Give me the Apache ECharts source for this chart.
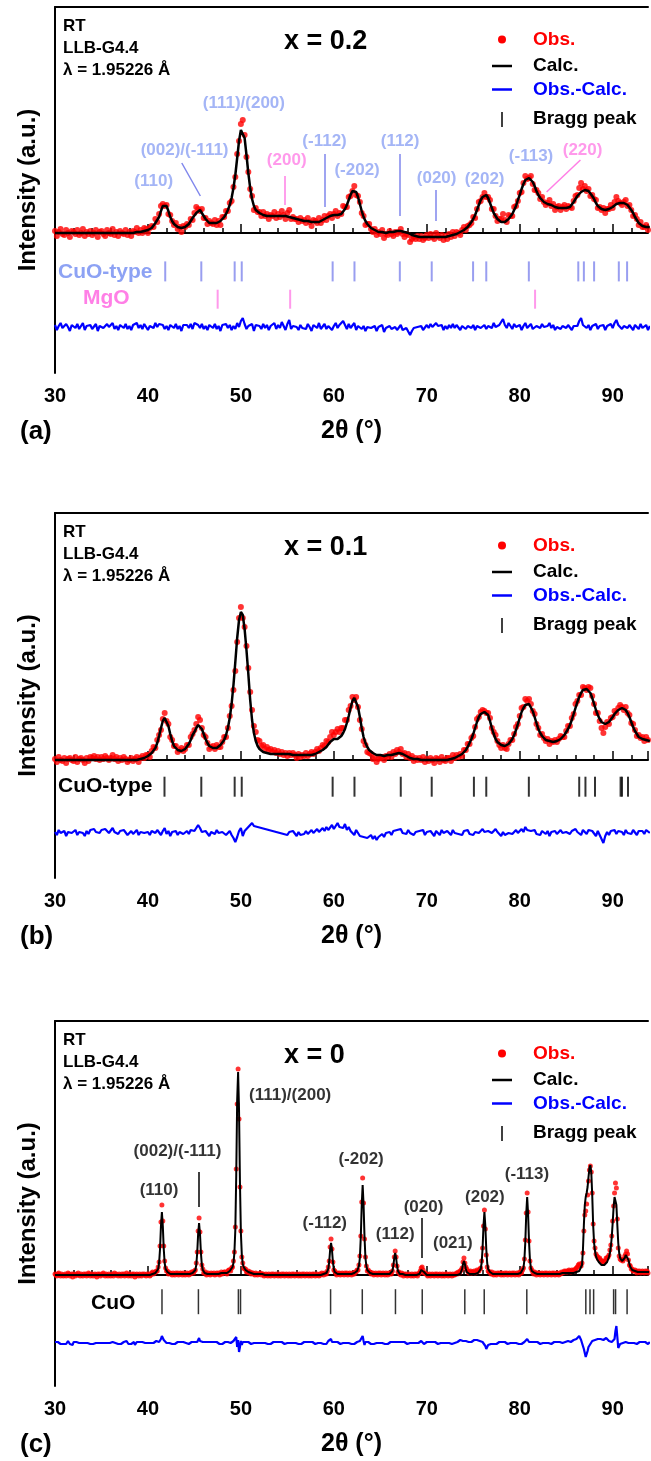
<!DOCTYPE html>
<html>
<head>
<meta charset="utf-8">
<script src="https://cdn.jsdelivr.net/npm/echarts/dist/echarts.min.js"></script>
<style>
  html, body { margin: 0; padding: 0; background: #fff; }
  #chart { width: 651px; height: 1461px; }
</style>
</head>
<body>
<div id="chart"></div>
<script>
// Rietveld refinement plots, 3 samples (x = 0.2, 0.1, 0)
// intensities in a.u., calc baseline at 0; obs = calc + (obs - calc)

// ---- panel (a) x = 0.2, step 0.2 deg from 30 ----
const calcA = [
  0,0,0,0,0, 0,0,0,0,0, 0,0,0,0,0, 0,0,0,0,0, 0,0,0,0,0, 0,0,0,0,0, 0,0,0,0,0, 0,0,0,0,0,
  0,0,0,1,1, 1,1,2,2,3, 3,4,5,7,10, 11,16,22,27,29, 27,22,16,12,9, 7,6,5,5,5,
  6,7,9,11,15, 16,20,22,23,21, 17,14,12,10,10, 10,10,10,11,12, 14,16,19,23,28,
  35,45,58,75,92, 103,104,95,78,60, 45,34,27,23,21, 20,19,18,18,17, 17,17,17,17,17,
  17,17,17,17,17, 17,16,16,15,15, 14,14,13,13,12, 12,12,11,11,11, 11,11,11,12,13,
  14,15,16,17,18, 18,18,18,18,19, 21,24,28,33,38, 42,43,41,36,29, 22,16,12,9,7,
  5,4,3,2,1, 1,1,0,0,1, 1,1,1,1,2, 2,2,2,1,0, 0,-1,-2,-3,-3,
  -3,-4,-4,-4,-4, -4,-4,-4,-4,-4, -4,-4,-4,-4,-4, -4,-4,-3,-3,-2, -2,-1,0,1,2,
  3,5,6,8,11, 14,18,23,28,33, 36,38,38,35,30, 25,20,17,14,12, 11,11,11,12,14,
  16,19,23,27,33, 38,44,49,53,55, 55,54,51,47,42, 38,35,33,31,30, 29,29,28,27,26,
  26,25,25,25,25, 25,25,26,28,31, 34,37,39,41,42, 43,43,42,40,37, 34,30,27,25,24,
  23,23,23,24,25, 26,27,29,30,30, 30,30,30,28,26, 23,20,16,13,10, 8,7,6,6,6,
  6
];
const diffA = [
  2,-3,1,4,-1, -2,3,0,-4,2, 1,-1,3,-2,0, 4,-3,1,-1,2, -2,0,3,-4,1, 2,-1,-3,3,0, -1,4,-2,1,-3, 2,0,-1,3,-2,
  1,-3,2,0,4, -1,2,-2,3,1, -3,1,2,-1,4, 0,3,5,2,-2, 1,-3,2,0,-1, 3,-2,1,-4,2,
  0,2,-1,3,-2, 4,6,2,-1,3, -2,1,-3,2,0, -1,3,-2,1,-4, 2,0,3,-1,2,
  -3,1,-2,4,0, 6,9,3,-2,1, -1,3,-4,2,0, 1,-2,3,-1,2, -3,1,0,4,-2,
  2,-1,5,1,-3, 3,7,-2,1,-1, 0,-3,2,-1,1, -2,3,0,-4,2, 1,-1,4,-2,0,
  3,-2,1,2,-3, 1,4,-1,2,0, 6,2,-2,3,-1, 0,4,-3,1,2, -2,1,-4,0,2,
  -1,-3,1,-4,0, -2,2,-5,-1,-3, 1,-2,-4,0,-3, -1,2,-3,-5,-1, -2,-8,-4,-1,-3,
  0,-2,1,-3,-1, 2,-1,3,0,-2, 4,1,-1,2,-3, 1,-2,2,-1,3, -1,2,0,-3,1,
  3,-2,1,0,-1, 2,-3,1,3,-1, 0,2,-2,1,3, -1,4,0,-2,2, 3,8,2,-1,4,
  1,-2,3,0,-1, 2,-3,1,4,-1, 0,3,-2,-4,1, 2,-1,3,0,-2, 1,4,-1,2,-3,
  0,2,-2,1,3, -1,2,0,-3,1, 3,1,6,9,2, 4,-1,2,-3,1, 0,3,-2,1,-1,
  2,-3,1,0,3, -1,4,7,2,0, -2,1,3,-1,2, 0,-3,2,1,-2, 3,-1,0,2,-3,
  1
];
const braggA_CuO = [41.86, 45.74, 49.33, 50.09, 59.87, 62.22, 67.1, 70.53, 74.98, 76.4, 80.98, 86.3, 86.9, 88.0, 90.66, 91.55];
const braggA_MgO = [47.5, 55.3, 81.65];
const labelsA = ['(110)', '(002)/(-111)', '(111)/(200)', '(200)', '(-112)', '(-202)', '(112)', '(020)', '(202)', '(-113)', '(220)'];
const labelPosA = [[40.62, 52], [43.94, 83], [50.32, 130], [54.93, 73], [59.0, 92], [62.5, 63], [67.13, 92], [71.06, 55], [76.23, 54], [81.22, 77], [86.76, 83]];
const labelPhaseA = ['CuO', 'CuO', 'CuO', 'MgO', 'CuO', 'CuO', 'CuO', 'CuO', 'CuO', 'CuO', 'MgO'];
const leadersA = [
  [[43.64, 70], [45.64, 37], 'CuO'],
  [[54.75, 57], [54.75, 28], 'MgO'],
  [[59.07, 79], [59.07, 26], 'CuO'],
  [[67.07, 79], [67.07, 17], 'CuO'],
  [[70.99, 43], [70.99, 12], 'CuO'],
  [[86.53, 73], [82.89, 41], 'MgO']
];

// ---- panel (b) x = 0.1, step 0.2 deg from 30 ----
const calcB = [
  0,0,0,0,0, 0,0,0,0,0, 0,0,0,0,0, 0,0,0,0,0, 0,0,0,0,0, 0,0,0,0,0, 0,0,0,0,0, 0,0,0,0,0, 0,0,0,0,0,
  0,1,1,2,3, 4,5,7,9,12, 17,24,32,39,42, 40,34,26,19,14, 12,10,9,9,10,
  11,13,16,20,25, 28,32,35,35,31, 26,21,17,14,12, 12,12,12,13,15, 17,20,25,32,42,
  56,75,98,122,140, 148,145,131,110,86, 60,40,27,19,14, 11,9,8,7,7, 7,6,6,6,6,
  6,6,6,6,6, 6,6,6,5,5, 5,5,5,5,5, 5,5,5,5,6, 6,7,8,9,10,
  12,13,15,18,20, 21,21,21,22,24, 27,31,37,44,52, 59,62,60,53,43, 32,23,17,13,10,
  8,7,6,5,5, 5,4,4,4,5, 5,5,6,6,7, 7,7,6,5,4, 3,2,2,1,1,
  1,0,0,0,0, 0,0,0,0,0, 0,0,0,0,0, 0,0,1,1,2, 2,3,4,5,6,
  8,10,13,17,21, 26,32,38,43,46, 46,48,48,45,39, 32,26,21,18,16, 15,14,14,15,16,
  18,21,25,30,36, 42,48,52,55,56, 56,54,49,43,37, 31,27,24,22,20, 19,19,18,18,18,
  19,20,21,23,25, 28,31,35,40,46, 52,58,63,67,70, 71,71,70,67,62, 56,50,45,41,38,
  37,36,37,38,40, 43,46,48,50,51, 52,52,50,47,43, 38,33,29,26,23, 22,21,20,20,19,
  19
];
const diffB = [
  1,-2,3,0,-1, 2,-3,1,2,0, -1,3,-2,1,2, 0,-3,2,-1,3, 2,4,1,3,0, 3,1,4,2,0, 2,5,1,3,-1, 2,0,3,1,-2, 0,2,-1,1,3,
  -2,1,3,0,2, 1,-2,2,4,0, 3,1,-2,2,5, -1,2,-3,1,0, 2,-2,1,3,-1,
  0,2,-1,3,1, 2,4,8,5,1, -1,2,0,-3,1, 2,-1,3,0,-2, 1,3,-2,0,2,
  -2,-5,-9,-4,2, 5,-3,2,4,6, 8,10,7,9,6, 8,5,7,4,6, 3,5,2,4,1,
  3,0,2,-1,1, -2,1,-1,2,0, -3,1,-2,0,-1, 2,-1,1,3,0, 2,4,1,3,5,
  2,6,3,5,8, 4,7,10,6,8, 5,9,3,6,2, 4,-2,3,0,-3, -1,-4,-2,-5,-3,
  -2,-6,-3,-7,-4, -3,-1,-4,0,-2, 1,-2,2,0,3, 1,4,0,2,-1, 3,0,2,-2,1,
  -1,2,0,3,-2, 1,-1,2,0,-3, 2,1,-2,3,0, -1,2,1,-2,3, 0,2,-1,1,-2,
  2,0,3,-1,1, -2,1,3,0,2, 4,1,-1,2,3, 0,2,4,1,-1, -3,1,-2,-4,0,
  2,-1,1,3,0, 2,4,1,6,3, 5,2,0,3,-1, 1,-2,2,0,-1, 2,-3,1,0,2,
  -1,1,3,0,-2, 1,3,-1,2,0, 4,1,2,-2,3, 1,-1,3,5,2, 0,-3,2,-2,-6,
  -10,-3,1,-2,2, 0,3,-1,2,4, 1,-2,3,0,2, -1,3,1,-2,2, 0,2,-1,3,1,
  0
];
const braggB = [41.78, 45.74, 49.33, 50.09, 59.87, 62.22, 67.2, 70.53, 75.07, 76.4, 80.98, 86.4, 87.07, 88.1, 90.85, 91.0, 91.65];

// ---- panel (c) x = 0, step 0.1 deg from 30 ----
const calcC = [
  0,0,0,0,0,0,0,0,0,0, 0,0,0,0,0,0,0,0,0,0, 0,0,0,0,0,0,0,0,0,0, 0,0,0,0,0,0,0,0,0,0, 0,0,0,0,0,0,0,0,0,0,
  0,0,0,0,0,0,0,0,0,0, 0,0,0,0,0,0,0,0,0,0, 0,0,0,0,0,0,0,0,0,0, 0,0,0,0,0,0,0,0,0,0, 0,0,0,0,0,0,0,0,0,0,
  0,0,0,0,1,1,1,1,2,2,
  3,6,12,26,49,63,49,26,12,6,
  4,3,2,2,1,1,1,1,1,1,
  1,1,1,1,1,1,1,1,1,1,
  1,1,1,1,1,1,1,2,2,2,
  3,5,10,22,41,52,41,22,10,5,
  3,2,2,1,1,1,1,1,1,1,
  1,1,1,1,1,1,1,1,1,2,
  2,2,2,2,2,2,3,3,4,4,
  6,8,12,22,45,100,175,203,165,92,
  42,20,11,8,6,5,4,3,3,2,
  2,2,2,1,1,1,1,1,1,1,
  1,1,1,1,0,0,0,0,0,0,
  0,0,0,0,0,0,0,0,0,0, 0,0,0,0,0,0,0,0,0,0, 0,0,0,0,0,0,0,0,0,0, 0,0,0,0,0,0,0,0,0,0, 0,0,0,0,0,0,0,0,0,0,
  0,0,0,0,0,0,0,1,1,1,
  1,1,2,3,6,13,25,32,25,13,
  6,3,2,1,1,1,1,1,1,1,
  1,1,1,1,1,1,1,1,1,1,
  1,1,2,2,3,4,5,9,17,38,
  70,90,70,38,17,9,5,4,3,2,
  2,2,1,1,1,1,1,1,1,1,
  1,1,1,1,1,1,1,1,1,1,
  1,1,2,4,9,17,22,17,9,4,
  2,1,1,1,1,0,0,0,0,0,
  0,0,0,0,0,0,0,0,0,0,
  0,1,1,3,5,7,5,3,1,1,
  0,0,0,0,0,0,0,0,0,0, 0,0,0,0,0,0,0,0,0,0, 0,0,0,0,0,0,0,0,0,0,
  0,0,0,0,1,1,1,3,6,11,
  14,11,6,3,2,1,1,1,1,1,
  1,1,1,1,2,2,3,4,6,12,
  26,49,63,49,26,12,6,4,3,2,
  2,1,1,1,1,1,1,1,1,1,
  1,1,1,1,1,1,1,1,1,1,
  1,1,1,1,1,1,1,1,1,1,
  2,2,3,4,7,15,33,61,78,61,
  33,15,7,4,3,2,2,2,1,1,
  1,1,1,1,1,1,1,1,1,1,
  1,1,1,1,1,1,1,1,1,1,
  1,1,1,1,1,2,2,2,2,2,
  2,2,2,2,2,2,2,2,2,2,
  3,3,3,4,4,5,6,10,25,50,
  70,78,82,88,98,107,110,102,80,50,
  32,24,19,16,14,13,12,11,10,10,
  10,10,11,12,13,15,18,22,28,38,
  52,68,78,80,70,50,32,22,17,15,
  14,14,15,17,20,22,20,15,11,8,
  6,5,5,4,4,4,3,3,3,3,
  3,3,3,3,3,3,3,3,3,3,
  3
];
const diffC = [
  1,0,-1,1,2,0,-1,1,0,-1, 0,1,-1,0,2,1,-1,0,1,-2, 1,0,-1,1,0,2,0,-1,1,0, -1,1,0,1,-1,0,2,1,-1,0, 1,-1,0,1,0,-2,1,0,1,-1,
  0,1,2,0,-1,1,0,-1,1,0, -1,0,1,-1,2,0,1,0,-1,1, 0,-1,1,0,1,-1,0,2,0,-1, 1,0,-1,1,0,1,-2,0,1,0, -1,1,0,-1,1,0,1,0,-1,1,
  0,1,-1,0,1,2,0,1,1,2,
  1,2,1,3,4,7,5,3,2,1,
  0,1,-1,0,1,0,-1,1,0,-1,
  1,0,1,-1,0,1,0,-1,1,0,
  -1,0,1,0,-1,1,0,1,1,0,
  1,0,2,1,3,5,2,1,0,1,
  -1,0,1,-1,0,1,0,-1,1,0,
  0,1,-1,0,1,0,1,-1,0,1,
  -1,0,1,1,0,-1,1,2,1,0,
  1,0,2,1,3,6,-4,3,-9,-4,
  2,-2,1,-1,0,1,-1,0,1,0,
  1,-1,0,1,0,-1,1,0,-1,0,
  0,1,-1,0,1,-1,0,1,0,-1,
  1,0,-1,1,0,1,-1,0,1,0,
  -1,1,0,-1,1,0,1,-1,0,1,
  0,-1,1,0,-1,1,0,1,-1,0,
  1,0,-1,1,0,-1,1,0,1,-1,
  0,1,0,-1,1,0,-1,1,0,1,
  -1,0,1,0,-1,1,0,1,0,-1,
  1,0,-1,1,2,1,3,4,1,0,
  -1,1,0,-1,1,0,1,-1,0,1,
  0,-1,1,0,1,-1,0,1,0,-1,
  1,0,-1,1,0,1,0,1,2,1,
  3,7,2,-2,1,0,-1,1,0,1,
  -1,0,1,-1,0,1,0,-1,1,0,
  1,-1,0,1,0,-1,1,0,-1,1,
  0,1,-1,0,1,1,2,1,0,-1,
  1,0,-1,1,0,-1,1,0,1,-1,
  0,1,0,-1,1,0,-1,1,0,1,
  -1,0,1,1,2,1,0,-1,1,0,
  1,-1,0,1,-1,0,1,0,-1,1,
  0,1,-1,0,1,0,-1,1,0,-1,
  1,0,1,-1,0,1,0,-1,1,0,
  0,1,2,1,2,1,3,2,1,2,
  3,1,2,3,2,1,2,3,1,2,
  2,3,1,2,3,2,1,2,1,2,
  1,0,2,-3,-6,-4,-2,-1,0,-1,
  1,0,-1,1,0,-1,1,0,1,0,
  -1,1,0,-1,1,0,1,-1,0,1,
  0,-1,1,0,1,-1,0,1,0,-1,
  1,0,-1,1,0,1,2,1,4,2,
  1,-1,0,1,0,-1,1,0,-1,1,
  0,1,-1,0,1,0,-1,1,0,1,
  -1,0,1,0,-1,1,0,1,-1,0,
  1,0,-1,1,0,1,0,1,2,1,
  2,1,2,3,2,1,3,2,3,2,
  3,4,5,6,7,5,3,2,-3,-6,
  -10,-14,-11,-8,-4,-2,-1,1,2,1,
  2,3,2,3,4,3,5,4,3,4,
  3,4,3,5,4,3,2,3,2,1,
  2,1,4,12,17,6,-5,-3,-1,0,
  1,0,1,2,1,2,1,0,-1,1,
  0,1,-1,0,1,0,-1,1,0,1,
  -1,0,1,0,-1,1,0,1,-1,0,
  1
];
const braggC = [41.51, 45.43, 49.73, 49.96, 59.65, 63.06, 66.63, 69.51, 74.09, 76.18, 80.76, 87.11, 87.56, 87.95, 90.1, 90.31, 91.55];
const labelsC = ['(110)', '(002)/(-111)', '(111)/(200)', '(-112)', '(-202)', '(112)', '(020)', '(021)', '(202)', '(-113)'];
const labelPosC = [[41.19, 85], [43.18, 124], [55.3, 180], [59.03, 52], [62.93, 116], [66.6, 41], [69.65, 68], [72.8, 32], [76.25, 78], [80.78, 101]];
const leadersC = [
  [[45.43, 103], [45.43, 68], 'CuO'],
  [[69.42, 57], [69.42, 17], 'CuO']
];

const xTicks = [30, 40, 50, 60, 70, 80, 90];

// ---- styling ----
const FONT = '"Liberation Sans", Arial, Helvetica, sans-serif';
const PHASE_TXT = { CuO: '#8DA2F4', MgO: '#FF7FE6' };
const PHASE_TICK = { CuO: '#7F86EC', MgO: '#FF7FE6' };
const X_MIN = 30, X_MAX = 93.8;

const panels = [
  { tag: '(a)', title: 'x = 0.2', top: 7, height: 366, yMin: -140, yMax: 226,
    calc: calcA, diff: diffA, step: 0.2, diffOffset: -94, symbol: 6, calcWidth: 2.5,
    bragg: [{ pos: braggA_CuO, mid: -38.4, len: 20, color: PHASE_TICK.CuO, w: 2 },
            { pos: braggA_MgO, mid: -66.2, len: 19, color: PHASE_TICK.MgO, w: 2 }],
    phaseLabels: [{ text: 'CuO-type', x: 58, dy: 265, color: PHASE_TXT.CuO },
                  { text: 'MgO', x: 83, dy: 291.5, color: PHASE_TXT.MgO }],
    labels: labelsA, labelPos: labelPosA, labelColor: labelPhaseA.map(p => PHASE_TXT[p]),
    leaders: leadersA.map(l => [l[0], l[1], PHASE_TICK[l[2]]]) },
  { tag: '(b)', title: 'x = 0.1', top: 513, height: 365, yMin: -118, yMax: 247,
    calc: calcB, diff: diffB, step: 0.2, diffOffset: -73, symbol: 6, calcWidth: 2.5,
    bragg: [{ pos: braggB, mid: -26.7, len: 20, color: '#000', w: 2 }],
    phaseLabels: [{ text: 'CuO-type', x: 58, dy: 273.5, color: '#000' }],
    labels: [], labelPos: [], labelColor: [], leaders: [] },
  { tag: '(c)', title: 'x = 0', top: 1021, height: 365, yMin: -111, yMax: 254,
    calc: calcC, diff: diffC, step: 0.1, diffOffset: -68, symbol: 5, calcWidth: 2,
    bragg: [{ pos: braggC, mid: -26.7, len: 25, color: '#000', w: 1.5 }],
    phaseLabels: [{ text: 'CuO', x: 91, dy: 282.3, color: '#000' }],
    labels: labelsC, labelPos: labelPosC, labelColor: labelsC.map(() => '#000'),
    leaders: leadersC.map(l => [l[0], l[1], '#000']) }
];

const grids = [], xAxes = [], yAxes = [], series = [], graphics = [];

function txt(x, y, s, size, color, align) {
  return { type: 'text', x: x, y: y, silent: true, z: 100,
    style: { text: s, fontFamily: FONT, fontWeight: 'bold', fontSize: size,
             fill: color || '#000', align: align || 'left', verticalAlign: 'middle' } };
}

panels.forEach((p, i) => {
  grids.push({ left: 55, right: 0, top: p.top, height: p.height });

  // bottom axis with ticks
  xAxes.push({
    type: 'value', gridIndex: i, min: X_MIN, max: X_MAX, interval: 10, position: 'bottom',
    axisLine: { lineStyle: { color: '#000', width: 2 } },
    axisTick: { inside: true, length: 9, lineStyle: { color: '#000', width: 1.5 } },
    minorTick: { show: true, splitNumber: 5, length: 5, lineStyle: { color: '#000', width: 1.5 } },
    axisLabel: { color: '#000', fontFamily: FONT, fontWeight: 'bold', fontSize: 20, margin: 13,
                 formatter: v => xTicks.includes(v) ? String(v) : '' },
    splitLine: { show: false },
    name: '2θ (°)', nameLocation: 'middle', nameGap: 46,
    nameTextStyle: { color: '#000', fontFamily: FONT, fontWeight: 'bold', fontSize: 25 }
  });
  // top frame line
  xAxes.push({
    type: 'value', gridIndex: i, min: X_MIN, max: X_MAX, position: 'top',
    axisLine: { lineStyle: { color: '#000', width: 2 } },
    axisTick: { show: false }, axisLabel: { show: false }, splitLine: { show: false }
  });
  yAxes.push({
    type: 'value', gridIndex: i, min: p.yMin, max: p.yMax,
    axisLine: { show: true, lineStyle: { color: '#000', width: 2 } },
    axisTick: { show: false }, axisLabel: { show: false }, splitLine: { show: false },
    name: 'Intensity (a.u.)', nameLocation: 'middle', nameGap: 15, nameRotate: 90,
    nameTextStyle: { color: '#000', fontFamily: FONT, fontWeight: 'bold', fontSize: 24 }
  });

  const xi = i * 2;
  const theta = p.calc.map((_, k) => +(30 + k * p.step).toFixed(2));

  series.push({
    name: 'Obs.', type: 'scatter', xAxisIndex: xi, yAxisIndex: i, z: 2,
    symbol: 'circle', symbolSize: p.symbol, silent: true,
    itemStyle: { color: '#FF0000' },
    data: theta.map((t, k) => [t, p.calc[k] + p.diff[k]])
  });
  series.push({
    name: 'Calc.', type: 'line', xAxisIndex: xi, yAxisIndex: i, z: 4,
    showSymbol: false, silent: true,
    lineStyle: { color: '#000', width: p.calcWidth },
    data: theta.map((t, k) => [t, p.calc[k]])
  });
  series.push({
    name: 'Obs.-Calc.', type: 'line', xAxisIndex: xi, yAxisIndex: i, z: 3,
    showSymbol: false, silent: true,
    lineStyle: { color: '#0000FF', width: 2.2 },
    data: theta.map((t, k) => [t, p.diff[k] + p.diffOffset])
  });
  p.bragg.forEach(b => {
    series.push({
      name: 'Bragg peak', type: 'scatter', xAxisIndex: xi, yAxisIndex: i, z: 3,
      symbol: 'rect', symbolSize: [b.w, b.len], silent: true,
      itemStyle: { color: b.color },
      data: b.pos.map(t => [t, b.mid])
    });
  });
  if (p.labels.length) {
    series.push({
      type: 'scatter', xAxisIndex: xi, yAxisIndex: i, z: 6, silent: true,
      symbolSize: 1, itemStyle: { color: 'rgba(0,0,0,0)' },
      label: { show: true, position: 'inside', fontFamily: FONT, fontWeight: 'bold', fontSize: 17,
               formatter: d => d.name },
      data: p.labels.map((s, k) => ({ name: s, value: p.labelPos[k],
                                      label: { color: p.labelColor[k] } })),
      markLine: {
        silent: true, symbol: 'none', animation: false, label: { show: false },
        data: p.leaders.map(l => [
          { coord: l[0], lineStyle: { color: l[2], width: 1.5, type: 'solid' } },
          { coord: l[1] }
        ])
      }
    });
  }

  // header texts
  const T = p.top;
  graphics.push(txt(63, T + 19.5, 'RT', 17));
  graphics.push(txt(63, T + 41, 'LLB-G4.4', 17));
  graphics.push(txt(63, T + 63, 'λ = 1.95226 Å', 17));
  graphics.push(txt(284, T + 34.5, p.title, 27));
  // legend
  graphics.push({ type: 'circle', silent: true, shape: { cx: 502, cy: T + 32.5, r: 4 }, style: { fill: '#FF0000' } });
  graphics.push(txt(533, T + 32.5, 'Obs.', 19, '#FF0000'));
  graphics.push({ type: 'line', silent: true, shape: { x1: 492, y1: T + 59, x2: 512, y2: T + 59 }, style: { stroke: '#000', lineWidth: 2.5 } });
  graphics.push(txt(533, T + 59, 'Calc.', 19));
  graphics.push({ type: 'line', silent: true, shape: { x1: 492, y1: T + 82.5, x2: 512, y2: T + 82.5 }, style: { stroke: '#0000FF', lineWidth: 2.5 } });
  graphics.push(txt(533, T + 82.5, 'Obs.-Calc.', 19, '#0000FF'));
  graphics.push({ type: 'line', silent: true, shape: { x1: 502, y1: T + 105, x2: 502, y2: T + 120 }, style: { stroke: '#000', lineWidth: 1.5 } });
  graphics.push(txt(533, T + 112, 'Bragg peak', 19));
  // phase labels
  p.phaseLabels.forEach(l => graphics.push(txt(l.x, T + l.dy, l.text, 21, l.color)));
  // panel tag
  graphics.push(txt(20, T + p.height + 59, p.tag, 26));
});

const chart = echarts.init(document.getElementById('chart'));
chart.setOption({
  animation: false,
  backgroundColor: '#fff',
  grid: grids,
  xAxis: xAxes,
  yAxis: yAxes,
  series: series,
  graphic: graphics
});
</script>
</body>
</html>
